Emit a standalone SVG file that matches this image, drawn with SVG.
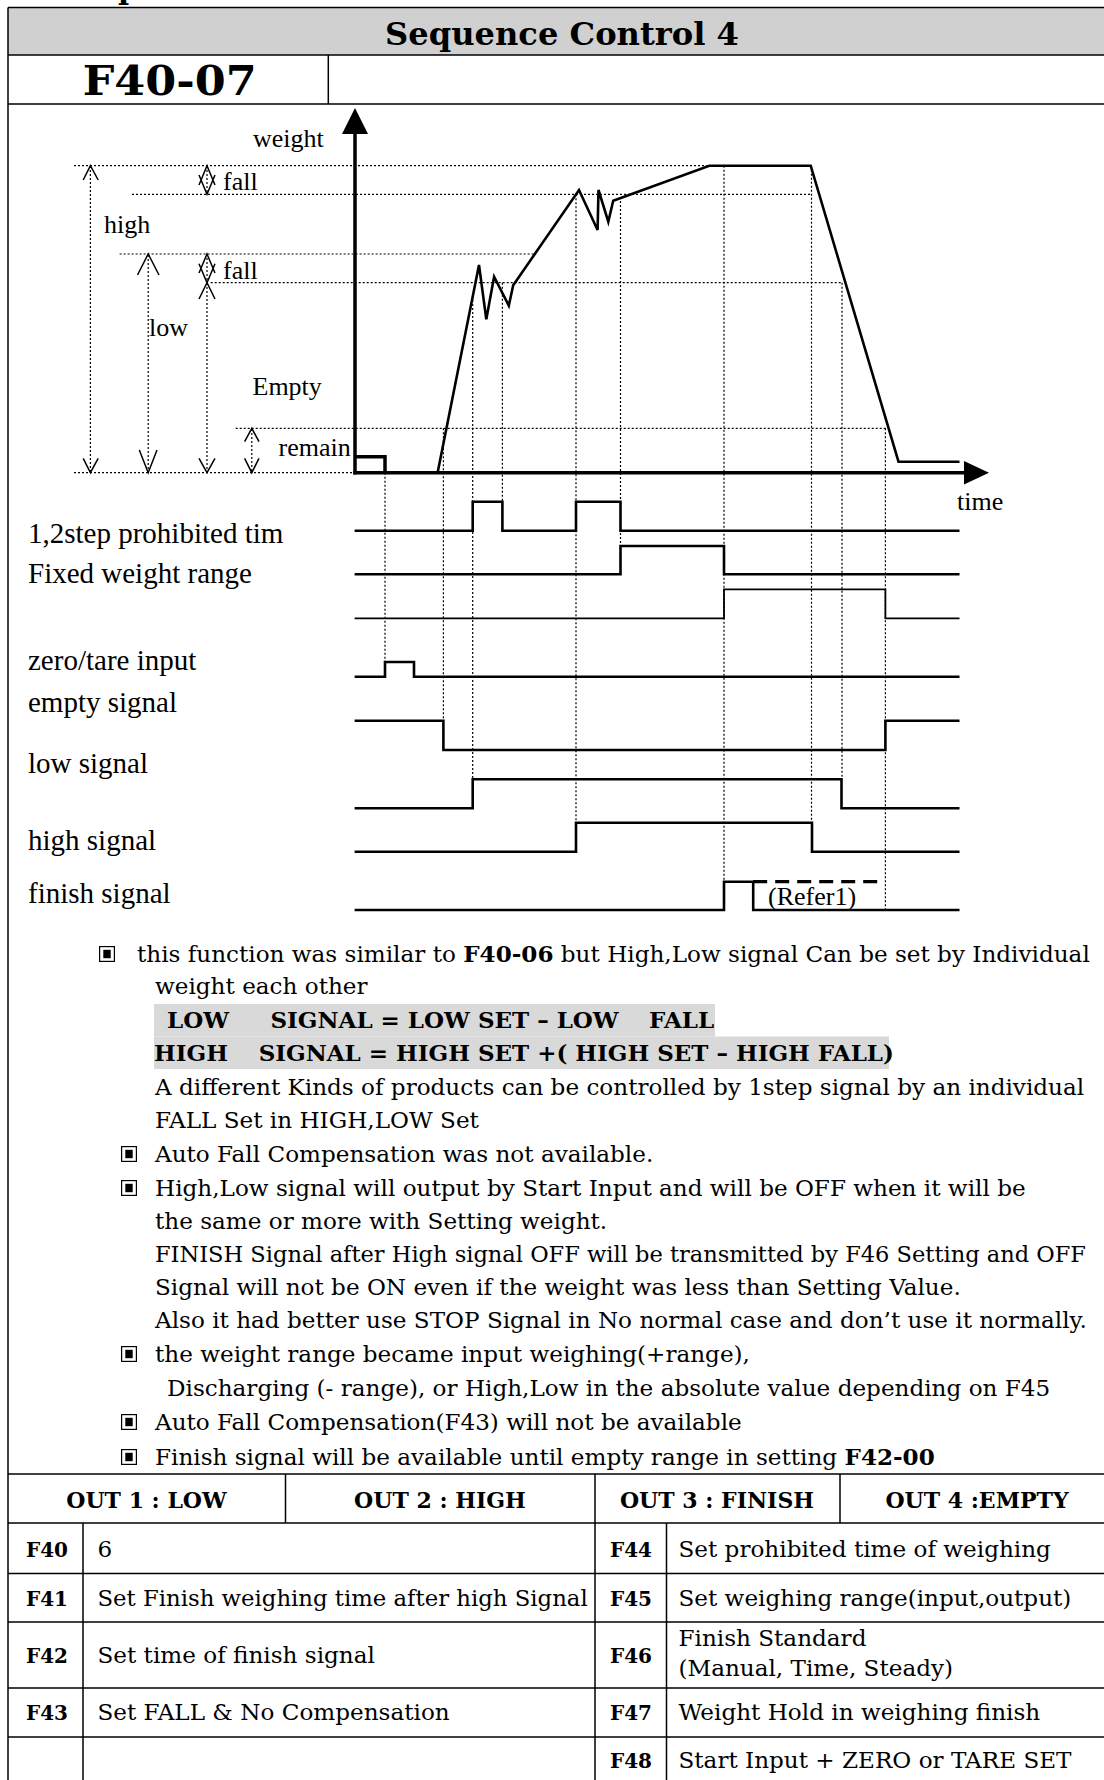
<svg xmlns="http://www.w3.org/2000/svg" width="1104" height="1780" viewBox="0 0 1104 1780">
<style>
.frame{stroke:#000;stroke-width:1.5;fill:none}
.dot{stroke:#000;stroke-width:1.2;stroke-dasharray:2 2;fill:none}
.sig{stroke:#000;stroke-width:2.6;fill:none}
.sigthin{stroke:#000;stroke-width:1.8;fill:none}
.curve{stroke:#000;stroke-width:2.6;fill:none;stroke-linejoin:miter}
.axis{stroke:#000;stroke-width:3.5;fill:none}
.chev{stroke:#000;stroke-width:1.5;fill:none}
.lbl{font-family:"Liberation Serif","Times New Roman",serif;font-size:26px;fill:#000}
.slbl{font-family:"Liberation Serif","Times New Roman",serif;font-size:29px;fill:#000}
.body{font-family:"DejaVu Serif",serif;font-size:21.5px;fill:#000}
.bodyb{font-family:"DejaVu Serif",serif;font-size:23px;font-weight:bold;fill:#000}
.th{font-family:"DejaVu Serif",serif;font-size:22px;font-weight:bold;fill:#000;text-anchor:middle}
.tk{font-family:"DejaVu Serif",serif;font-size:20px;font-weight:bold;fill:#000}
</style>
<defs>
<g id="bul"><rect x="0.6" y="0.6" width="14.8" height="14.8" fill="#fff" stroke="#000" stroke-width="1.2"/><rect x="4.3" y="3.8" width="7.4" height="8.4" fill="#000"/></g>
</defs>

<g id="page-frame">
<text x="118" y="-1" font-family="DejaVu Serif" font-weight="bold" font-size="30">p</text>
<rect x="8" y="7.5" width="1096" height="47.5" fill="#d0d0d0"/>
<line class="frame" x1="8" y1="7.5" x2="1104" y2="7.5"/>
<line class="frame" x1="8" y1="55" x2="1104" y2="55"/>
<line class="frame" x1="8" y1="104" x2="1104" y2="104"/>
<line class="frame" x1="328.3" y1="55" x2="328.3" y2="104"/>
<line class="frame" x1="8" y1="7.5" x2="8" y2="1780"/>
<text x="385" y="45" font-family="DejaVu Serif" font-weight="bold" font-size="31" textLength="354" lengthAdjust="spacingAndGlyphs">Sequence Control 4</text>
<text x="82.7" y="95" font-family="DejaVu Serif" font-weight="bold" font-size="41" textLength="174" lengthAdjust="spacingAndGlyphs">F40-07</text>
</g>

<g id="chart-guides">
<line class="dot" x1="74" y1="165.7" x2="709" y2="165.7"/>
<line class="dot" x1="132" y1="194.3" x2="811" y2="194.3"/>
<line class="dot" x1="119.6" y1="254" x2="534" y2="254"/>
<line class="dot" x1="210.7" y1="282.7" x2="842" y2="282.7"/>
<line class="dot" x1="235.7" y1="428.3" x2="886" y2="428.3"/>
<line class="dot" x1="74" y1="472.7" x2="353" y2="472.7"/>
<line class="dot" x1="385" y1="472.7" x2="385" y2="662"/>
<line class="dot" x1="443.4" y1="428.3" x2="443.4" y2="720.7"/>
<line class="dot" x1="472.7" y1="296" x2="472.7" y2="779.3"/>
<line class="dot" x1="502.4" y1="282.7" x2="502.4" y2="501.7"/>
<line class="dot" x1="576" y1="194.3" x2="576" y2="822.7"/>
<line class="dot" x1="620.5" y1="201" x2="620.5" y2="546"/>
<line class="dot" x1="724" y1="165.7" x2="724" y2="881.7"/>
<line class="dot" x1="811.5" y1="165.7" x2="811.5" y2="822.7"/>
<line class="dot" x1="842" y1="282.7" x2="842" y2="779.3"/>
<line class="dot" x1="885.4" y1="428.3" x2="885.4" y2="910"/>
</g>

<g id="dimension-arrows">
<line class="dot" x1="90.4" y1="166" x2="90.4" y2="472"/>
<path class="chev" d="M83.2,180 L90.4,165.7 L98.2,180 M83.2,458.3 L90.4,472.7 L98.2,458.3"/>
<line class="dot" x1="148.2" y1="255" x2="148.2" y2="472"/>
<path class="chev" d="M137.5,275 L148.2,254 L159,275 M139.3,450 L148.2,472.7 L157,450"/>
<line class="dot" x1="207" y1="166" x2="207" y2="194"/>
<path class="chev" d="M199,185 L207,165.7 L215,185 M199,175 L207,194.3 L215,175"/>
<line class="dot" x1="207" y1="254" x2="207" y2="282"/>
<path class="chev" d="M199,273 L207,254 L215,273 M199,263.7 L207,282.7 L215,263.7"/>
<line class="dot" x1="207" y1="283" x2="207" y2="472"/>
<path class="chev" d="M199,299 L207,282.7 L215,299 M199,458.3 L207,472.7 L215,458.3"/>
<line class="dot" x1="251.8" y1="429" x2="251.8" y2="472"/>
<path class="chev" d="M244.6,441.7 L251.8,428.3 L259,441.7 M244.6,458.3 L251.8,472.7 L259,458.3"/>
<text class="lbl" x="253" y="147">weight</text>
<text class="lbl" x="223" y="190">fall</text>
<text class="lbl" x="104" y="233">high</text>
<text class="lbl" x="223" y="279">fall</text>
<text class="lbl" x="149" y="336">low</text>
<text class="lbl" x="252.5" y="395">Empty</text>
<text class="lbl" x="278.6" y="456">remain</text>
<text class="lbl" x="957" y="510">time</text>
</g>

<g id="axes">
<line class="axis" x1="355" y1="474.4" x2="355" y2="130"/>
<polygon points="355,108 342,134 368,134" fill="#000"/>
<line class="axis" x1="353.3" y1="472.7" x2="966" y2="472.7"/>
<polygon points="989,472.7 964,461 964,484.5" fill="#000"/>
<path class="axis" d="M355,456.7 H385 V472.7"/>
<path class="curve" d="M437.6,472.7 L479,265 L486.3,319.3 L494.1,276.7 L508.8,305.7 L513.2,285.3 L579,190 L597.6,230 L598.5,190 L608.3,221.7 L613.2,200.7 L709.3,165.7 L810.7,165.7 L898.5,461.7 L959.5,461.7"/>
</g>

<g id="signals">
<path class="sig" d="M354.6,530.7 H472.7 V501.7 H502.4 V530.7 H576 V501.7 H620.5 V530.7 H959.5"/>
<path class="sig" d="M354.6,574.3 H620.5 V546 H724 V574.3 H959.5"/>
<path class="sigthin" d="M354.6,618.3 H724 V589.3 H885.4 V618.3 H959.5"/>
<path class="sig" d="M354.6,676.7 H385 V662 H414 V676.7 H959.5"/>
<path class="sig" d="M354.6,720.7 H443.4 V750 H885.4 V720.7 H959.5"/>
<path class="sig" d="M354.6,808.3 H472.7 V779.3 H841.5 V808.3 H959.5"/>
<path class="sig" d="M354.6,851.7 H576 V822.7 H812 V851.7 H959.5"/>
<path class="sig" d="M354.6,910 H724 V881.7 H753.2 V910 H959.5"/>
<line x1="753.2" y1="881.7" x2="880.5" y2="881.7" stroke="#000" stroke-width="3.2" stroke-dasharray="14 8"/>
<text class="lbl" x="768" y="905">(Refer1)</text>
<text class="slbl" x="28" y="542.5">1,2step prohibited tim</text>
<text class="slbl" x="28" y="583.3">Fixed weight range</text>
<text class="slbl" x="28" y="670">zero/tare input</text>
<text class="slbl" x="28" y="711.5">empty signal</text>
<text class="slbl" x="28" y="773.3">low signal</text>
<text class="slbl" x="28" y="850">high signal</text>
<text class="slbl" x="28" y="903">finish signal</text>
</g>

<g id="notes">
<rect x="154" y="1004" width="561" height="32.5" fill="#d9d9d9"/>
<rect x="154" y="1036.5" width="735" height="32.5" fill="#d9d9d9"/>
<use href="#bul" x="99" y="946"/>
<use href="#bul" x="121" y="1146"/>
<use href="#bul" x="121" y="1180"/>
<use href="#bul" x="121" y="1346"/>
<use href="#bul" x="121" y="1414"/>
<use href="#bul" x="121" y="1449"/>
<text class="bodyb" x="167" y="1028">LOW</text>
<text class="bodyb" x="270.5" y="1028">SIGNAL = LOW SET – LOW</text>
<text class="bodyb" x="649" y="1028">FALL</text>
<text class="bodyb" x="154" y="1061">HIGH</text>
<text class="bodyb" x="258.7" y="1061">SIGNAL = HIGH SET +( HIGH SET – HIGH FALL)</text>
<g transform="scale(1.075,1)">
<text class="body" x="127.44" y="962">this function was similar to <tspan font-weight="bold">F40-06</tspan> but High,Low signal Can be set by Individual</text>
<text class="body" x="144.19" y="994">weight each other</text>
<text class="body" x="144.19" y="1095">A different Kinds of products can be controlled by 1step signal by an individual</text>
<text class="body" x="144.19" y="1128">FALL Set in HIGH,LOW Set</text>
<text class="body" x="144.19" y="1162">Auto Fall Compensation was not available.</text>
<text class="body" x="144.19" y="1196">High,Low signal will output by Start Input and will be OFF when it will be</text>
<text class="body" x="144.19" y="1229">the same or more with Setting weight.</text>
<text class="body" x="144.19" y="1262" textLength="866" lengthAdjust="spacingAndGlyphs">FINISH Signal after High signal OFF will be transmitted by F46 Setting and OFF</text>
<text class="body" x="144.19" y="1295">Signal will not be ON even if the weight was less than Setting Value.</text>
<text class="body" x="144.19" y="1328">Also it had better use STOP Signal in No normal case and don’t use it normally.</text>
<text class="body" x="144.19" y="1362">the weight range became input weighing(+range),</text>
<text class="body" x="155.35" y="1396">Discharging (- range), or High,Low in the absolute value depending on F45</text>
<text class="body" x="144.19" y="1430">Auto Fall Compensation(F43) will not be available</text>
<text class="body" x="144.19" y="1465">Finish signal will be available until empty range in setting <tspan font-weight="bold">F42-00</tspan></text>
</g>
</g>

<g id="table">
<g class="frame">
<line x1="8" y1="1474" x2="1104" y2="1474"/>
<line x1="8" y1="1523" x2="1104" y2="1523"/>
<line x1="8" y1="1573.5" x2="1104" y2="1573.5"/>
<line x1="8" y1="1622" x2="1104" y2="1622"/>
<line x1="8" y1="1688" x2="1104" y2="1688"/>
<line x1="8" y1="1737" x2="1104" y2="1737"/>
<line x1="285.5" y1="1474" x2="285.5" y2="1523"/>
<line x1="595" y1="1474" x2="595" y2="1780"/>
<line x1="840" y1="1474" x2="840" y2="1523"/>
<line x1="83" y1="1523" x2="83" y2="1780"/>
<line x1="666.5" y1="1523" x2="666.5" y2="1780"/>
</g>
<text class="th" x="146.5" y="1507.5">OUT 1 : LOW</text>
<text class="th" x="440" y="1507.5">OUT 2 : HIGH</text>
<text class="th" x="717" y="1507.5">OUT 3 : FINISH</text>
<text class="th" x="977" y="1507.5">OUT 4 :EMPTY</text>
<text class="tk" x="26" y="1557">F40</text>
<text class="tk" x="610" y="1557">F44</text>
<text class="tk" x="26" y="1606">F41</text>
<text class="tk" x="610" y="1606">F45</text>
<text class="tk" x="26" y="1663">F42</text>
<text class="tk" x="610" y="1663">F46</text>
<text class="tk" x="26" y="1720">F43</text>
<text class="tk" x="610" y="1720">F47</text>
<text class="tk" x="610" y="1768">F48</text>
<g transform="scale(1.075,1)">
<text class="body" x="90.7" y="1557">6</text>
<text class="body" x="631.16" y="1557">Set prohibited time of weighing</text>
<text class="body" x="90.7" y="1606" textLength="456" lengthAdjust="spacingAndGlyphs">Set Finish weighing time after high Signal</text>
<text class="body" x="631.16" y="1606">Set weighing range(input,output)</text>
<text class="body" x="90.7" y="1663">Set time of finish signal</text>
<text class="body" x="631.16" y="1646">Finish Standard</text>
<text class="body" x="631.16" y="1676">(Manual, Time, Steady)</text>
<text class="body" x="90.7" y="1720">Set FALL &amp; No Compensation</text>
<text class="body" x="631.16" y="1720">Weight Hold in weighing finish</text>
<text class="body" x="631.16" y="1768">Start Input + ZERO or TARE SET</text>
</g>
</g>
</svg>
